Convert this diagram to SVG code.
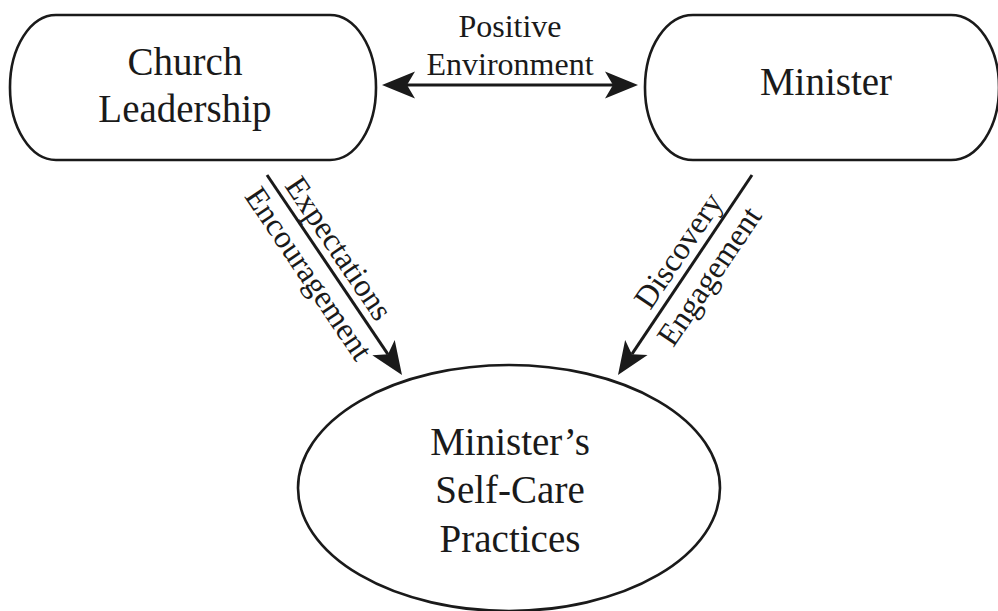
<svg xmlns="http://www.w3.org/2000/svg" width="998" height="611" viewBox="0 0 998 611">
  <style>
    .node { fill: #fff; stroke: #1a1a1a; stroke-width: 2.6; }
    .label { font-family: "Liberation Serif", "Times New Roman", serif; fill: #1a1a1a; text-anchor: middle; }
    .big { font-size: 39px; }
    .small { font-size: 32px; }
    .link { stroke: #1a1a1a; stroke-width: 3; fill: none; }
  </style>
  <defs>
    <!-- notched arrowhead; the line ends at the notch, the tip sits 25px further on -->
    <marker id="head" markerUnits="userSpaceOnUse" markerWidth="40" markerHeight="32" refX="0" refY="0" viewBox="-10 -16 38 32" orient="auto-start-reverse">
      <path d="M25,0 L-8,-13.5 L0,0 L-8,13.5 Z" fill="#1a1a1a"/>
    </marker>
  </defs>
  <rect width="998" height="611" fill="#fff"/>

  <g id="church-leadership">
    <rect class="node" x="10" y="15" width="366" height="145" rx="46" ry="72"/>
    <text class="label big" x="185" y="75">Church</text>
    <text class="label big" x="185" y="122">Leadership</text>
  </g>

  <g id="minister">
    <rect class="node" x="645" y="15" width="354" height="145" rx="48" ry="72"/>
    <text class="label big" x="826" y="95">Minister</text>
  </g>

  <g id="self-care">
    <ellipse class="node" cx="509" cy="488" rx="211" ry="123"/>
    <text class="label big" x="510" y="455">Minister’s</text>
    <text class="label big" x="510" y="503">Self-Care</text>
    <text class="label big" x="510" y="552">Practices</text>
  </g>

  <g id="connectors">
    <line class="link" x1="407" y1="85" x2="613" y2="85" marker-start="url(#head)" marker-end="url(#head)"/>
    <path class="link" d="M267,175 L388,354.3" marker-end="url(#head)"/>
    <path class="link" d="M752,175 L631.9,354.2" marker-end="url(#head)"/>

    <text class="label small" x="510" y="37">Positive</text>
    <text class="label small" x="510" y="75">Environment</text>

    <g transform="translate(267,175) rotate(56)">
      <text class="label small" x="101" y="-8">Expectations</text>
      <text class="label small" x="105" y="31">Encouragement</text>
    </g>
    <g transform="translate(618,375) rotate(-56)">
      <text class="label small" x="137" y="-9">Discovery</text>
      <text class="label small" x="133" y="31">Engagement</text>
    </g>
  </g>
</svg>
